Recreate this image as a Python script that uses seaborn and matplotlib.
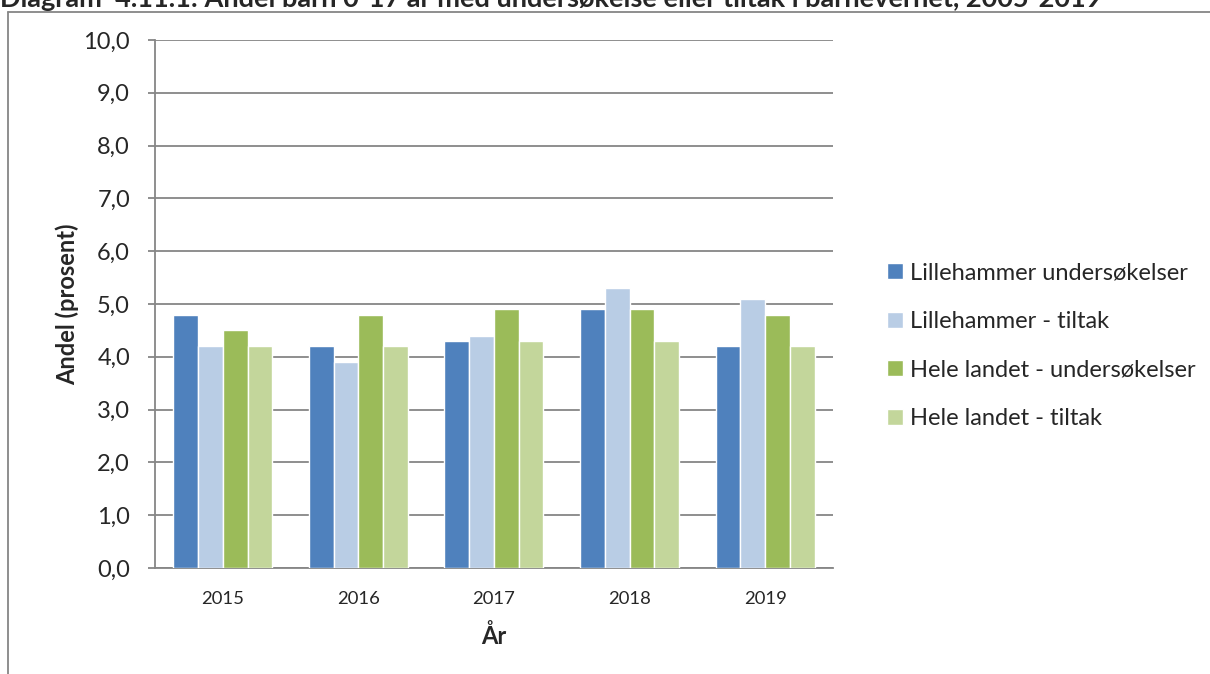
import pandas as pd
import numpy as np
import matplotlib.pyplot as plt
import seaborn as sns
from matplotlib.lines import Line2D

years = ['2015', '2016', '2017', '2018', '2019']
series = ['Lillehammer undersøkelser', 'Lillehammer - tiltak',
          'Hele landet - undersøkelser', 'Hele landet - tiltak']
lh_unders = [4.8, 4.2, 4.3, 4.9, 4.2]
lh_tiltak = [4.2, 3.9, 4.4, 5.3, 5.1]
hl_unders = [4.5, 4.8, 4.9, 4.9, 4.8]
hl_tiltak = [4.2, 4.2, 4.3, 4.3, 4.2]
colors = ['#4F81BD', '#B9CDE5', '#9BBB59', '#C3D69B']

rows = []
for name, vals in zip(series, [lh_unders, lh_tiltak, hl_unders, hl_tiltak]):
    for y, v in zip(years, vals):
        rows.append({'År': y, 'serie': name, 'verdi': v})
df = pd.DataFrame(rows)

sns.set_style('white')
plt.rcParams['font.family'] = ['Lato', 'DejaVu Sans']

fig = plt.figure(figsize=(12.1, 6.74), dpi=100)
ax = fig.add_axes([0.1281, 0.1573, 0.5603, 0.7834])

sns.barplot(data=df, x='År', y='verdi', hue='serie', palette=colors,
            width=0.73, saturation=1, ax=ax, zorder=3)

ax.set_ylim(0, 10)
ax.set_xlim(-0.5, 4.5)
ticks = np.arange(0, 10.01, 1)
ax.set_yticks(ticks)
ax.set_yticklabels([f'{v:.1f}'.replace('.', ',') for v in ticks], fontsize=17)
ax.grid(axis='y', color='#868686', linewidth=1.3, zorder=0)
ax.set_axisbelow(True)

ax.tick_params(axis='x', length=0, labelsize=13.3, pad=16.5)
ax.set_xticks(np.arange(-0.5, 4.6, 1), minor=True)
ax.tick_params(axis='x', which='minor', length=6, color='#868686', width=1.3)
ax.tick_params(axis='y', length=5, color='#868686', width=1.3, left=True, pad=13)

for s in ['top', 'right']:
    ax.spines[s].set_visible(False)
for s in ['left', 'bottom']:
    ax.spines[s].set_color('#868686')
    ax.spines[s].set_linewidth(1.3)

ax.set_xlabel('År', fontsize=17, fontweight='bold', labelpad=12.5)
ax.set_ylabel('Andel (prosent)', fontsize=17, fontweight='bold', labelpad=3)

handles, labels = ax.get_legend_handles_labels()
ax.legend(handles, labels, loc='center left', bbox_to_anchor=(0.723, 0.487),
          bbox_transform=fig.transFigure, frameon=False, fontsize=17,
          borderpad=0, handlelength=0.68, handleheight=0.68,
          handletextpad=0.3, labelspacing=1.17)

# outer chart frame
fig.add_artist(Line2D([8 / 1210, 8 / 1210], [0, 1 - 12 / 674],
                      transform=fig.transFigure, color='#868686', lw=1.3))
fig.add_artist(Line2D([8 / 1210, 1], [1 - 12 / 674, 1 - 12 / 674],
                      transform=fig.transFigure, color='#868686', lw=1.3))

fig.text(0.0, 1 - 7 / 674,
         'Diagram  4.11.1: Andel barn 0-17 år med undersøkelse eller tiltak i barnevernet, 2005-2019',
         fontsize=19.5, fontweight='bold', va='baseline', ha='left')

fig.savefig('out.png', dpi=100)
